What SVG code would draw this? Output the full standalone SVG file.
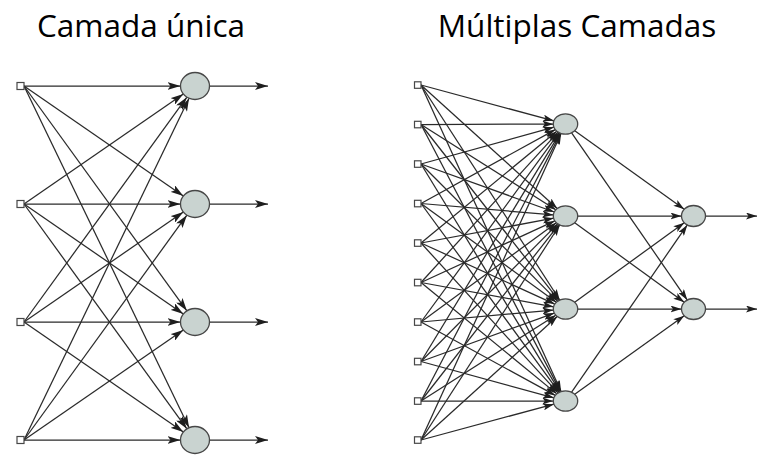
<svg xmlns="http://www.w3.org/2000/svg" width="762" height="461" viewBox="0 0 762 461">
<style>
.title{font-family:"Open Sans","Liberation Sans",sans-serif;font-size:31.5px;fill:#000;text-anchor:middle}
.e line{stroke:#2a2a2a;stroke-width:1.25;fill:none}
.l line{marker-end:url(#arrL)}
.r line{marker-end:url(#arrR)}
.node{fill:#c9d3d0;stroke:#474747;stroke-width:1.3}
.inp{fill:#fff;stroke:#474747;stroke-width:1.2}
</style>
<defs>
<marker id="arrL" markerUnits="userSpaceOnUse" markerWidth="13" markerHeight="8" viewBox="0 0 13 8" refX="13" refY="4" orient="auto">
<path d="M0,0 L13,4 L0,8 L3,4 z" fill="#1e1e1e"/>
</marker>
<marker id="arrR" markerUnits="userSpaceOnUse" markerWidth="11" markerHeight="7" viewBox="0 0 11 7" refX="11" refY="3.5" orient="auto">
<path d="M0,0 L11,3.5 L0,7 L2.5,3.5 z" fill="#1e1e1e"/>
</marker>
</defs>
<rect width="762" height="461" fill="#fff"/>
<text class="title" x="141" y="37">Camada única</text>
<text class="title" x="577" y="37">Múltiplas Camadas</text>

<g id="connectors">
<g class="e l">
<line x1="24" y1="86" x2="180.5" y2="86"/>
<line x1="24" y1="204" x2="183.35" y2="94.04"/>
<line x1="24" y1="322" x2="186.89" y2="97.19"/>
<line x1="24" y1="440" x2="189.05" y2="98.31"/>
<line x1="24" y1="86" x2="183.35" y2="195.96"/>
<line x1="24" y1="204" x2="180.5" y2="204"/>
<line x1="24" y1="322" x2="183.35" y2="212.04"/>
<line x1="24" y1="440" x2="186.89" y2="215.19"/>
<line x1="24" y1="86" x2="186.89" y2="310.81"/>
<line x1="24" y1="204" x2="183.35" y2="313.96"/>
<line x1="24" y1="322" x2="180.5" y2="322"/>
<line x1="24" y1="440" x2="183.35" y2="330.04"/>
<line x1="24" y1="86" x2="189.05" y2="427.69"/>
<line x1="24" y1="204" x2="186.89" y2="428.81"/>
<line x1="24" y1="322" x2="183.35" y2="431.96"/>
<line x1="24" y1="440" x2="180.5" y2="440"/>
<line x1="209.5" y1="86" x2="268" y2="86"/>
<line x1="209.5" y1="204" x2="268" y2="204"/>
<line x1="209.5" y1="322" x2="268" y2="322"/>
<line x1="209.5" y1="440" x2="268" y2="440"/>
</g>
<g class="e r">
<line x1="421" y1="85" x2="553.89" y2="120.87"/>
<line x1="421" y1="124.5" x2="553.3" y2="124.04"/>
<line x1="421" y1="164" x2="553.92" y2="127.21"/>
<line x1="421" y1="203.5" x2="555.31" y2="129.61"/>
<line x1="421" y1="243" x2="556.81" y2="131.16"/>
<line x1="421" y1="282.5" x2="558.1" y2="132.11"/>
<line x1="421" y1="322" x2="559.14" y2="132.71"/>
<line x1="421" y1="361.5" x2="559.97" y2="133.09"/>
<line x1="421" y1="401" x2="560.62" y2="133.36"/>
<line x1="421" y1="440" x2="561.14" y2="133.53"/>

<line x1="421" y1="85" x2="557.23" y2="208.5"/>
<line x1="421" y1="124.5" x2="555.77" y2="209.84"/>
<line x1="421" y1="164" x2="554.29" y2="211.97"/>
<line x1="421" y1="203.5" x2="553.36" y2="214.95"/>
<line x1="421" y1="243" x2="553.59" y2="218.22"/>
<line x1="421" y1="282.5" x2="554.81" y2="220.92"/>
<line x1="421" y1="322" x2="556.33" y2="222.73"/>
<line x1="421" y1="361.5" x2="557.71" y2="223.85"/>
<line x1="421" y1="401" x2="558.83" y2="224.54"/>
<line x1="421" y1="440" x2="559.71" y2="224.98"/>

<line x1="421" y1="85" x2="559.71" y2="300.02"/>
<line x1="421" y1="124.5" x2="558.82" y2="300.47"/>
<line x1="421" y1="164" x2="557.69" y2="301.16"/>
<line x1="421" y1="203.5" x2="556.31" y2="302.29"/>
<line x1="421" y1="243" x2="554.79" y2="304.11"/>
<line x1="421" y1="282.5" x2="553.58" y2="306.81"/>
<line x1="421" y1="322" x2="553.37" y2="310.09"/>
<line x1="421" y1="361.5" x2="554.31" y2="313.07"/>
<line x1="421" y1="401" x2="555.79" y2="315.18"/>
<line x1="421" y1="440" x2="557.23" y2="316.5"/>

<line x1="421" y1="85" x2="561.14" y2="391.47"/>
<line x1="421" y1="124.5" x2="560.62" y2="391.65"/>
<line x1="421" y1="164" x2="559.96" y2="391.91"/>
<line x1="421" y1="203.5" x2="559.13" y2="392.3"/>
<line x1="421" y1="243" x2="558.09" y2="392.9"/>
<line x1="421" y1="282.5" x2="556.79" y2="393.86"/>
<line x1="421" y1="322" x2="555.29" y2="395.42"/>
<line x1="421" y1="361.5" x2="553.9" y2="397.83"/>
<line x1="421" y1="401" x2="553.3" y2="401"/>
<line x1="421" y1="440" x2="553.89" y2="404.13"/>

<line x1="574.75" y1="130.65" x2="684.23" y2="209.34"/>
<line x1="577.7" y1="216" x2="681.5" y2="216"/>
<line x1="574.71" y1="302.31" x2="684.27" y2="222.71"/>
<line x1="571.61" y1="392.17" x2="687.29" y2="224.98"/>
<line x1="571.61" y1="132.83" x2="687.29" y2="300.02"/>
<line x1="574.71" y1="222.69" x2="684.27" y2="302.29"/>
<line x1="577.7" y1="309" x2="681.5" y2="309"/>
<line x1="574.75" y1="394.35" x2="684.23" y2="315.66"/>
<line x1="705.5" y1="216" x2="757" y2="216"/>
<line x1="705.5" y1="309" x2="757" y2="309"/>
</g>
</g>

<g id="single-inputs">
<rect id="s-in1" class="inp" x="17" y="82.5" width="7" height="7"/>
<rect id="s-in2" class="inp" x="17" y="200.5" width="7" height="7"/>
<rect id="s-in3" class="inp" x="17" y="318.5" width="7" height="7"/>
<rect id="s-in4" class="inp" x="17" y="436.5" width="7" height="7"/>
</g>
<g id="single-outputs">
<ellipse id="s-out1" class="node" cx="195" cy="86" rx="14.5" ry="13.5"/>
<ellipse id="s-out2" class="node" cx="195" cy="204" rx="14.5" ry="13.5"/>
<ellipse id="s-out3" class="node" cx="195" cy="322" rx="14.5" ry="13.5"/>
<ellipse id="s-out4" class="node" cx="195" cy="440" rx="14.5" ry="13.5"/>
</g>

<g id="multi-inputs">
<rect id="m-in1" class="inp" x="414.5" y="81.8" width="6.5" height="6.5"/>
<rect id="m-in2" class="inp" x="414.5" y="121.3" width="6.5" height="6.5"/>
<rect id="m-in3" class="inp" x="414.5" y="160.8" width="6.5" height="6.5"/>
<rect id="m-in4" class="inp" x="414.5" y="200.3" width="6.5" height="6.5"/>
<rect id="m-in5" class="inp" x="414.5" y="239.8" width="6.5" height="6.5"/>
<rect id="m-in6" class="inp" x="414.5" y="279.3" width="6.5" height="6.5"/>
<rect id="m-in7" class="inp" x="414.5" y="318.8" width="6.5" height="6.5"/>
<rect id="m-in8" class="inp" x="414.5" y="358.3" width="6.5" height="6.5"/>
<rect id="m-in9" class="inp" x="414.5" y="397.8" width="6.5" height="6.5"/>
<rect id="m-in10" class="inp" x="414.5" y="436.8" width="6.5" height="6.5"/>
</g>
<g id="multi-hidden">
<ellipse id="m-h1" class="node" cx="565.5" cy="124" rx="12.2" ry="10.2"/>
<ellipse id="m-h2" class="node" cx="565.5" cy="216" rx="12.2" ry="10.2"/>
<ellipse id="m-h3" class="node" cx="565.5" cy="309" rx="12.2" ry="10.2"/>
<ellipse id="m-h4" class="node" cx="565.5" cy="401" rx="12.2" ry="10.2"/>
</g>
<g id="multi-outputs">
<ellipse id="m-o1" class="node" cx="693.5" cy="216" rx="12" ry="10.5"/>
<ellipse id="m-o2" class="node" cx="693.5" cy="309" rx="12" ry="10.5"/>
</g>
</svg>
